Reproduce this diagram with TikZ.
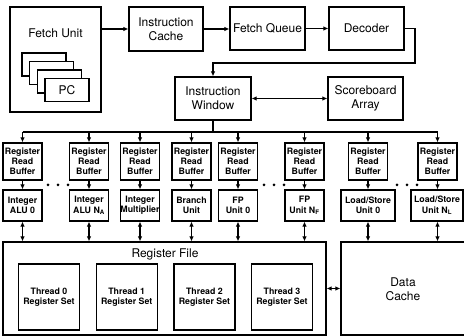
\documentclass[tikz,border=0pt]{standalone}
\usepackage{fontspec}
\setmainfont{TeX Gyre Heros}
\usetikzlibrary{arrows.meta,calc}
\tikzset{
  box/.style={draw, line width=1.2pt, fill=white, inner sep=0pt, align=center},
  big/.style={font=\fontsize{12}{14}\selectfont},
  sml/.style={font=\bfseries\fontsize{8.8}{10.2}\selectfont},
  conn/.style={line width=1.2pt},
  arr/.style={conn, -{Latex[length=5pt,width=4.5pt]}},
  biarr/.style={conn, {Latex[length=5pt,width=4.5pt]}-{Latex[length=5pt,width=4.5pt]}},
  rrb/.style={box, sml, minimum width=39pt, minimum height=37pt},
  fu/.style={box, sml, minimum width=39pt, minimum height=31pt},
  thr/.style={box, sml, minimum width=61pt, minimum height=66pt},
  pcbox/.style={box, big, minimum width=44pt, minimum height=23pt},
}
\begin{document}
\begin{tikzpicture}[x=1pt,y=-1pt]
\useasboundingbox (0,0) rectangle (464,336);
% fetch unit
\node[box, minimum width=91pt, minimum height=105pt] (fetch) at (55.5,59.5) {};
\node[big] (fetchlbl) at (55.5,33) {Fetch Unit};
\node[pcbox] (pc1) at (44,64.5) {};
\node[pcbox] (pc2) at (51.7,73) {};
\node[pcbox] (pc3) at (59.3,81.5) {};
\node[pcbox] (pc4) at (67,90) {PC};
% top row
\node[box, big, minimum width=74pt, minimum height=44pt] (ic) at (166,29) {Instruction\\Cache};
\node[box, big, minimum width=75pt, minimum height=43pt] (fq) at (267.5,28.5) {Fetch Queue};
\node[box, big, minimum width=75pt, minimum height=43pt] (dec) at (366.5,28.5) {Decoder};
\node[box, big, minimum width=76pt, minimum height=43pt] (iw) at (213,98.5) {Instruction\\Window};
\node[box, big, minimum width=75pt, minimum height=43pt] (sb) at (365.5,98.5) {Scoreboard\\Array};
\draw[arr] (fetch.east |- ic.west) -- (ic.west);
\draw[arr] (ic.east) -- (ic.east -| fq.west);
\draw[arr] (fq.east) -- (dec.west);
\coordinate (turn) at (415,63);
\draw[arr] (dec.east) -| (turn) -| (iw.north);
\draw[biarr] (iw.east) -- (iw.east -| sb.west);
% register read buffers
\node[rrb] (r1) at (22.5,161.5) {Register\\Read\\Buffer};
\node[rrb] (r2) at (89,161.5) {Register\\Read\\Buffer};
\node[rrb] (r3) at (140,161.5) {Register\\Read\\Buffer};
\node[rrb] (r4) at (191.5,161.5) {Register\\Read\\Buffer};
\node[rrb] (r5) at (238,161.5) {Register\\Read\\Buffer};
\node[rrb] (r6) at (304.5,161.5) {Register\\Read\\Buffer};
\node[rrb] (r7) at (368,161.5) {Register\\Read\\Buffer};
\node[rrb] (r8) at (437.5,161.5) {Register\\Read\\Buffer};
% bus
\coordinate (busL) at (22.5,132);
\coordinate (busR) at (437.5,132);
\draw[conn] (iw.south) -- (iw.south |- busL);
\draw[conn] (busL) -- (busR);
\foreach \r in {r1,r2,r3,r4,r5,r6,r7,r8}{
  \draw[arr] (\r.north |- busL) -- (\r.north);
}
% functional units
\node[fu] (f1) at (22.5,205.5) {Integer\\ALU 0};
\node[fu] (f2) at (89,205.5) {Integer\\ALU N\textsubscript{A}};
\node[fu] (f3) at (140,205.5) {Integer\\Multiplier};
\node[fu] (f4) at (191.5,205.5) {Branch\\Unit};
\node[fu] (f5) at (238,205.5) {FP\\Unit 0};
\node[fu] (f6) at (304.5,205.5) {FP\\Unit N\textsubscript{F}};
\node[fu, minimum width=54pt] (f7) at (368,205.5) {Load/Store\\Unit 0};
\node[fu, minimum width=52pt] (f8) at (437,205.5) {Load/Store\\Unit N\textsubscript{L}};
\draw[arr] (r1.south) -- (f1.north);
\draw[arr] (r2.south) -- (f2.north);
\draw[arr] (r3.south) -- (f3.north);
\draw[arr] (r4.south) -- (f4.north);
\draw[arr] (r5.south) -- (f5.north);
\draw[arr] (r6.south) -- (f6.north);
\draw[arr] (r7.south) -- (r7.south |- f7.north);
\draw[arr] (r8.south) -- (r8.south |- f8.north);
% dots
\foreach \x in {48,58,68,264,274,284,397,407,417}{
  \fill (\x,185) circle (1.5pt);
}
% register file and data cache
\node[box, minimum width=323pt, minimum height=93pt] (rf) at (164.5,288.5) {};
\node[big] (rflbl) at (165,254) {Register File};
\node[thr] (t0) at (49,297) {Thread 0\\Register Set};
\node[thr] (t1) at (126.7,297) {Thread 1\\Register Set};
\node[thr] (t2) at (204.4,297) {Thread 2\\Register Set};
\node[thr] (t3) at (282,297) {Thread 3\\Register Set};
\node[box, minimum width=129pt, minimum height=93pt] (dc) at (405.5,288.5) {};
\node[big, align=center] (dclbl) at (403,289) {Data\\Cache};
\foreach \f in {f1,f2,f3,f4,f5,f6}{
  \draw[biarr] (\f.south) -- (\f.south |- rf.north);
}
\draw[biarr] (f7.south) -- (f7.south |- dc.north);
\draw[biarr] (f8.south -| r8.south) -- (r8.south |- dc.north);
\draw[biarr] (rf.east) -- (rf.east -| dc.west);
\end{tikzpicture}
\end{document}
